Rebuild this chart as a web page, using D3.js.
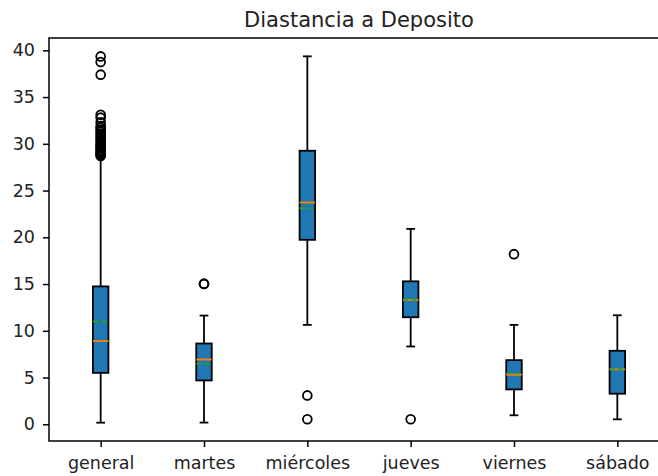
<!DOCTYPE html>
<html>
<head>
<meta charset="utf-8">
<script src="https://cdn.jsdelivr.net/npm/d3@7"></script>
<style>
  html, body { margin: 0; padding: 0; background: #fff; }
  svg { display: block; font-family: "DejaVu Sans", sans-serif; }
</style>
</head>
<body>
<svg id="chart" width="658" height="476"></svg>
<script>
const categories = ["general", "martes", "miércoles", "jueves", "viernes", "sábado"];
const whiskerLow = [0.17, 0.18, 10.63, 8.32, 0.96, 0.53];
const q1 = [5.5, 4.69, 19.73, 11.45, 3.73, 3.27];
const median = [8.9, 6.93, 23.72, 13.3, 5.3, 5.87];
const mean = [11.0, 6.47, 23.1, 13.35, 5.44, 5.9];
const q3 = [14.75, 8.64, 29.26, 15.29, 6.86, 7.86];
const whiskerHigh = [28.6, 11.63, 39.36, 20.9, 10.63, 11.66];
const outliers = [
  [39.35, 38.75, 37.4, 33.1, 32.8, 32.3, 31.9, 31.7, 31.5, 31.3, 31.1, 30.9, 30.7, 30.5, 30.3, 30.1,
   29.95, 29.8, 29.65, 29.5, 29.35, 29.2, 29.05, 28.9, 28.8, 28.7],
  [15.04, 15.0],
  [3.09, 0.53],
  [0.53],
  [18.2],
  []
];
const yTicks = [0, 5, 10, 15, 20, 25, 30, 35, 40];
const title = "Diastancia a Deposito";

const svg = d3.select("#chart");
const mLeft = 49, mRight = 669, mTop = 38, mBottom = 441;
const x = d3.scaleLinear().domain([0.5, 6.5]).range([mLeft, mRight]);
const y = d3.scaleLinear().domain([-1.79, 41.32]).range([mBottom, mTop]);
const boxW = x(1.15) - x(1);
const capW = boxW / 2;
const lw = 1.8;

const plot = svg.append("g");

categories.forEach((c, i) => {
  const cx = x(i + 1);
  const g = plot.append("g");
  g.append("line").attr("x1", cx).attr("x2", cx).attr("y1", y(whiskerLow[i])).attr("y2", y(q1[i]))
    .attr("stroke", "#000").attr("stroke-width", lw);
  g.append("line").attr("x1", cx).attr("x2", cx).attr("y1", y(q3[i])).attr("y2", y(whiskerHigh[i]))
    .attr("stroke", "#000").attr("stroke-width", lw);
  [whiskerLow[i], whiskerHigh[i]].forEach(v => {
    g.append("line").attr("x1", cx - capW / 2 - 0.5).attr("x2", cx + capW / 2 + 0.5).attr("y1", y(v)).attr("y2", y(v))
      .attr("stroke", "#000").attr("stroke-width", lw);
  });
  g.append("rect").attr("x", cx - boxW / 2).attr("width", boxW)
    .attr("y", y(q3[i])).attr("height", y(q1[i]) - y(q3[i]))
    .attr("fill", "#1f77b4").attr("stroke", "#000").attr("stroke-width", lw);
  g.append("line").attr("x1", cx - boxW / 2).attr("x2", cx + boxW / 2).attr("y1", y(median[i])).attr("y2", y(median[i]))
    .attr("stroke", "#ff7f0e").attr("stroke-width", 1.9);
  g.append("line").attr("x1", cx - boxW / 2).attr("x2", cx + boxW / 2).attr("y1", y(mean[i])).attr("y2", y(mean[i]))
    .attr("stroke", "#2ca02c").attr("stroke-width", 1.9).attr("stroke-dasharray", "5.5,2.4");
  outliers[i].forEach(v => {
    g.append("circle").attr("cx", cx).attr("cy", y(v)).attr("r", 4.4)
      .attr("fill", "none").attr("stroke", "#000").attr("stroke-width", 1.8);
  });
});

const yAxis = d3.axisLeft(y).tickValues(yTicks).tickSize(6).tickPadding(8);
const ya = svg.append("g").attr("transform", `translate(${mLeft},0)`).call(yAxis);
ya.select(".domain").remove();
ya.selectAll(".tick line").attr("stroke", "#000").attr("stroke-width", 1.5);
ya.selectAll(".tick text").attr("font-size", 17.5).attr("fill", "#222").attr("font-family", "DejaVu Sans");

const xAxis = d3.axisBottom(x).tickValues(d3.range(1, categories.length + 1))
  .tickFormat(d => categories[d - 1]).tickSize(6).tickPadding(10);
const xa = svg.append("g").attr("transform", `translate(0,${mBottom})`).call(xAxis);
xa.select(".domain").remove();
xa.selectAll(".tick line").attr("stroke", "#000").attr("stroke-width", 1.5);
xa.selectAll(".tick text").attr("font-size", 17.5).attr("fill", "#222").attr("font-family", "DejaVu Sans");

svg.append("rect").attr("x", mLeft).attr("y", mTop).attr("width", mRight - mLeft).attr("height", mBottom - mTop)
  .attr("fill", "none").attr("stroke", "#000").attr("stroke-width", 1.5);

svg.append("text").attr("x", (mLeft + mRight) / 2).attr("y", 26.5).attr("text-anchor", "middle")
  .attr("font-size", 21).attr("fill", "#222").text(title);
</script>
</body>
</html>
